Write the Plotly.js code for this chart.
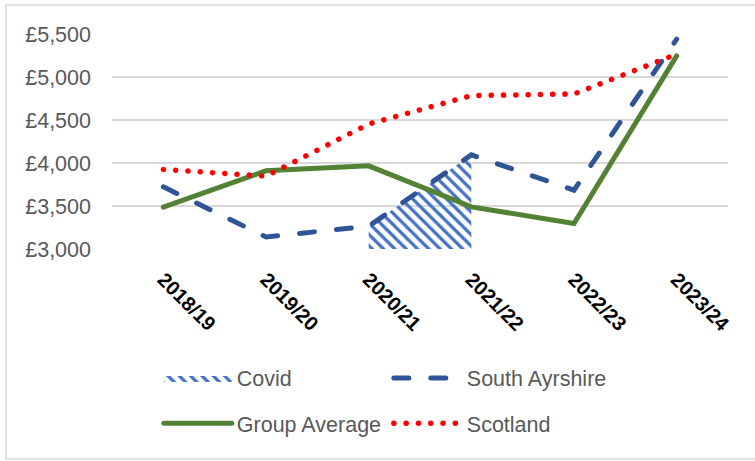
<!DOCTYPE html>
<html>
<head>
<meta charset="utf-8">
<script src="https://cdn.plot.ly/plotly-3.0.1.min.js"></script>
<style>
html,body{margin:0;padding:0;background:#fff;}
#chart{width:755px;height:461px;}
.js-line{stroke-linecap:round;}
</style>
</head>
<body>
<div id="chart"></div>
<script>
const years = ['2018/19','2019/20','2020/21','2021/22','2022/23','2023/24'];
const southAyrshire = [3723, 3140, 3265, 4095, 3684, 5440];
const groupAverage = [3486, 3909, 3967, 3490, 3296, 5246];
const scotland = [3925, 3847, 4453, 4783, 4803, 5265];
const covidYears = ['2020/21','2021/22'];
const covidValues = [3265, 4095];
const yTicks = [3000, 3500, 4000, 4500, 5000, 5500];
const yTickText = ['\u00a33,000','\u00a33,500','\u00a34,000','\u00a34,500','\u00a35,000','\u00a35,500'];

const FONT = 'Liberation Sans, Arial, sans-serif';

const traces = [
  {
    name: 'Covid', x: covidYears, y: covidValues, type: 'scatter', mode: 'lines',
    fill: 'tozeroy', fillcolor: 'rgba(0,0,0,0)',
    fillpattern: {shape: '\\', fgcolor: '#4472C4', bgcolor: 'rgba(0,0,0,0)', size: 8, solidity: 0.4},
    line: {width: 0, color: '#4472C4'}, legend: 'legend', hoverinfo: 'skip'
  },
  {
    name: 'South Ayrshire', x: years, y: southAyrshire, type: 'scatter', mode: 'lines',
    line: {color: '#2F5597', width: 5, dash: '15px,22px'}, legend: 'legend'
  },
  {
    name: 'Group Average', x: years, y: groupAverage, type: 'scatter', mode: 'lines',
    line: {color: '#548235', width: 5}, legend: 'legend2'
  },
  {
    name: 'Scotland', x: years, y: scotland, type: 'scatter', mode: 'lines',
    line: {color: '#FF0000', width: 5.5, dash: '0.1px,12.2px'}, legend: 'legend2'
  }
];

const legendCommon = {
  orientation: 'h', xanchor: 'left', yanchor: 'middle',
  x: 0.076, entrywidth: 147, entrywidthmode: 'pixels', itemwidth: 68,
  font: {family: FONT, size: 21.5, color: '#595959'}, bgcolor: 'rgba(0,0,0,0)'
};

const layout = {
  width: 755, height: 461,
  margin: {l: 112, r: 27, t: 34, b: 212},
  paper_bgcolor: '#fff', plot_bgcolor: '#fff',
  showlegend: true,
  xaxis: {
    type: 'category', categoryarray: years, range: [-0.5, 5.5],
    showgrid: false, showline: false, zeroline: false, ticks: '',
    tickangle: 45, ticklabelstandoff: 14,
    tickfont: {family: FONT, size: 20, color: '#000', weight: 'bold'}
  },
  yaxis: {
    range: [3000, 5500], tickvals: yTicks, ticktext: yTickText,
    showgrid: true, gridcolor: '#D9D9D9', gridwidth: 1.3, zeroline: false, showline: false,
    tickfont: {family: FONT, size: 21.5, color: '#595959'}, ticklabelstandoff: 20
  },
  legend: Object.assign({}, legendCommon, {y: -0.6}),
  legend2: Object.assign({}, legendCommon, {y: -0.81}),
  shapes: [{
    type: 'rect', xref: 'paper', yref: 'paper', layer: 'below',
    x0: -0.172, x1: 1.3, y0: -0.977, y1: 1.135,
    line: {color: '#D9D9D9', width: 1.5}, fillcolor: 'rgba(0,0,0,0)'
  }]
};

Plotly.newPlot('chart', traces, layout, {displayModeBar: false, staticPlot: true});
</script>
</body>
</html>
